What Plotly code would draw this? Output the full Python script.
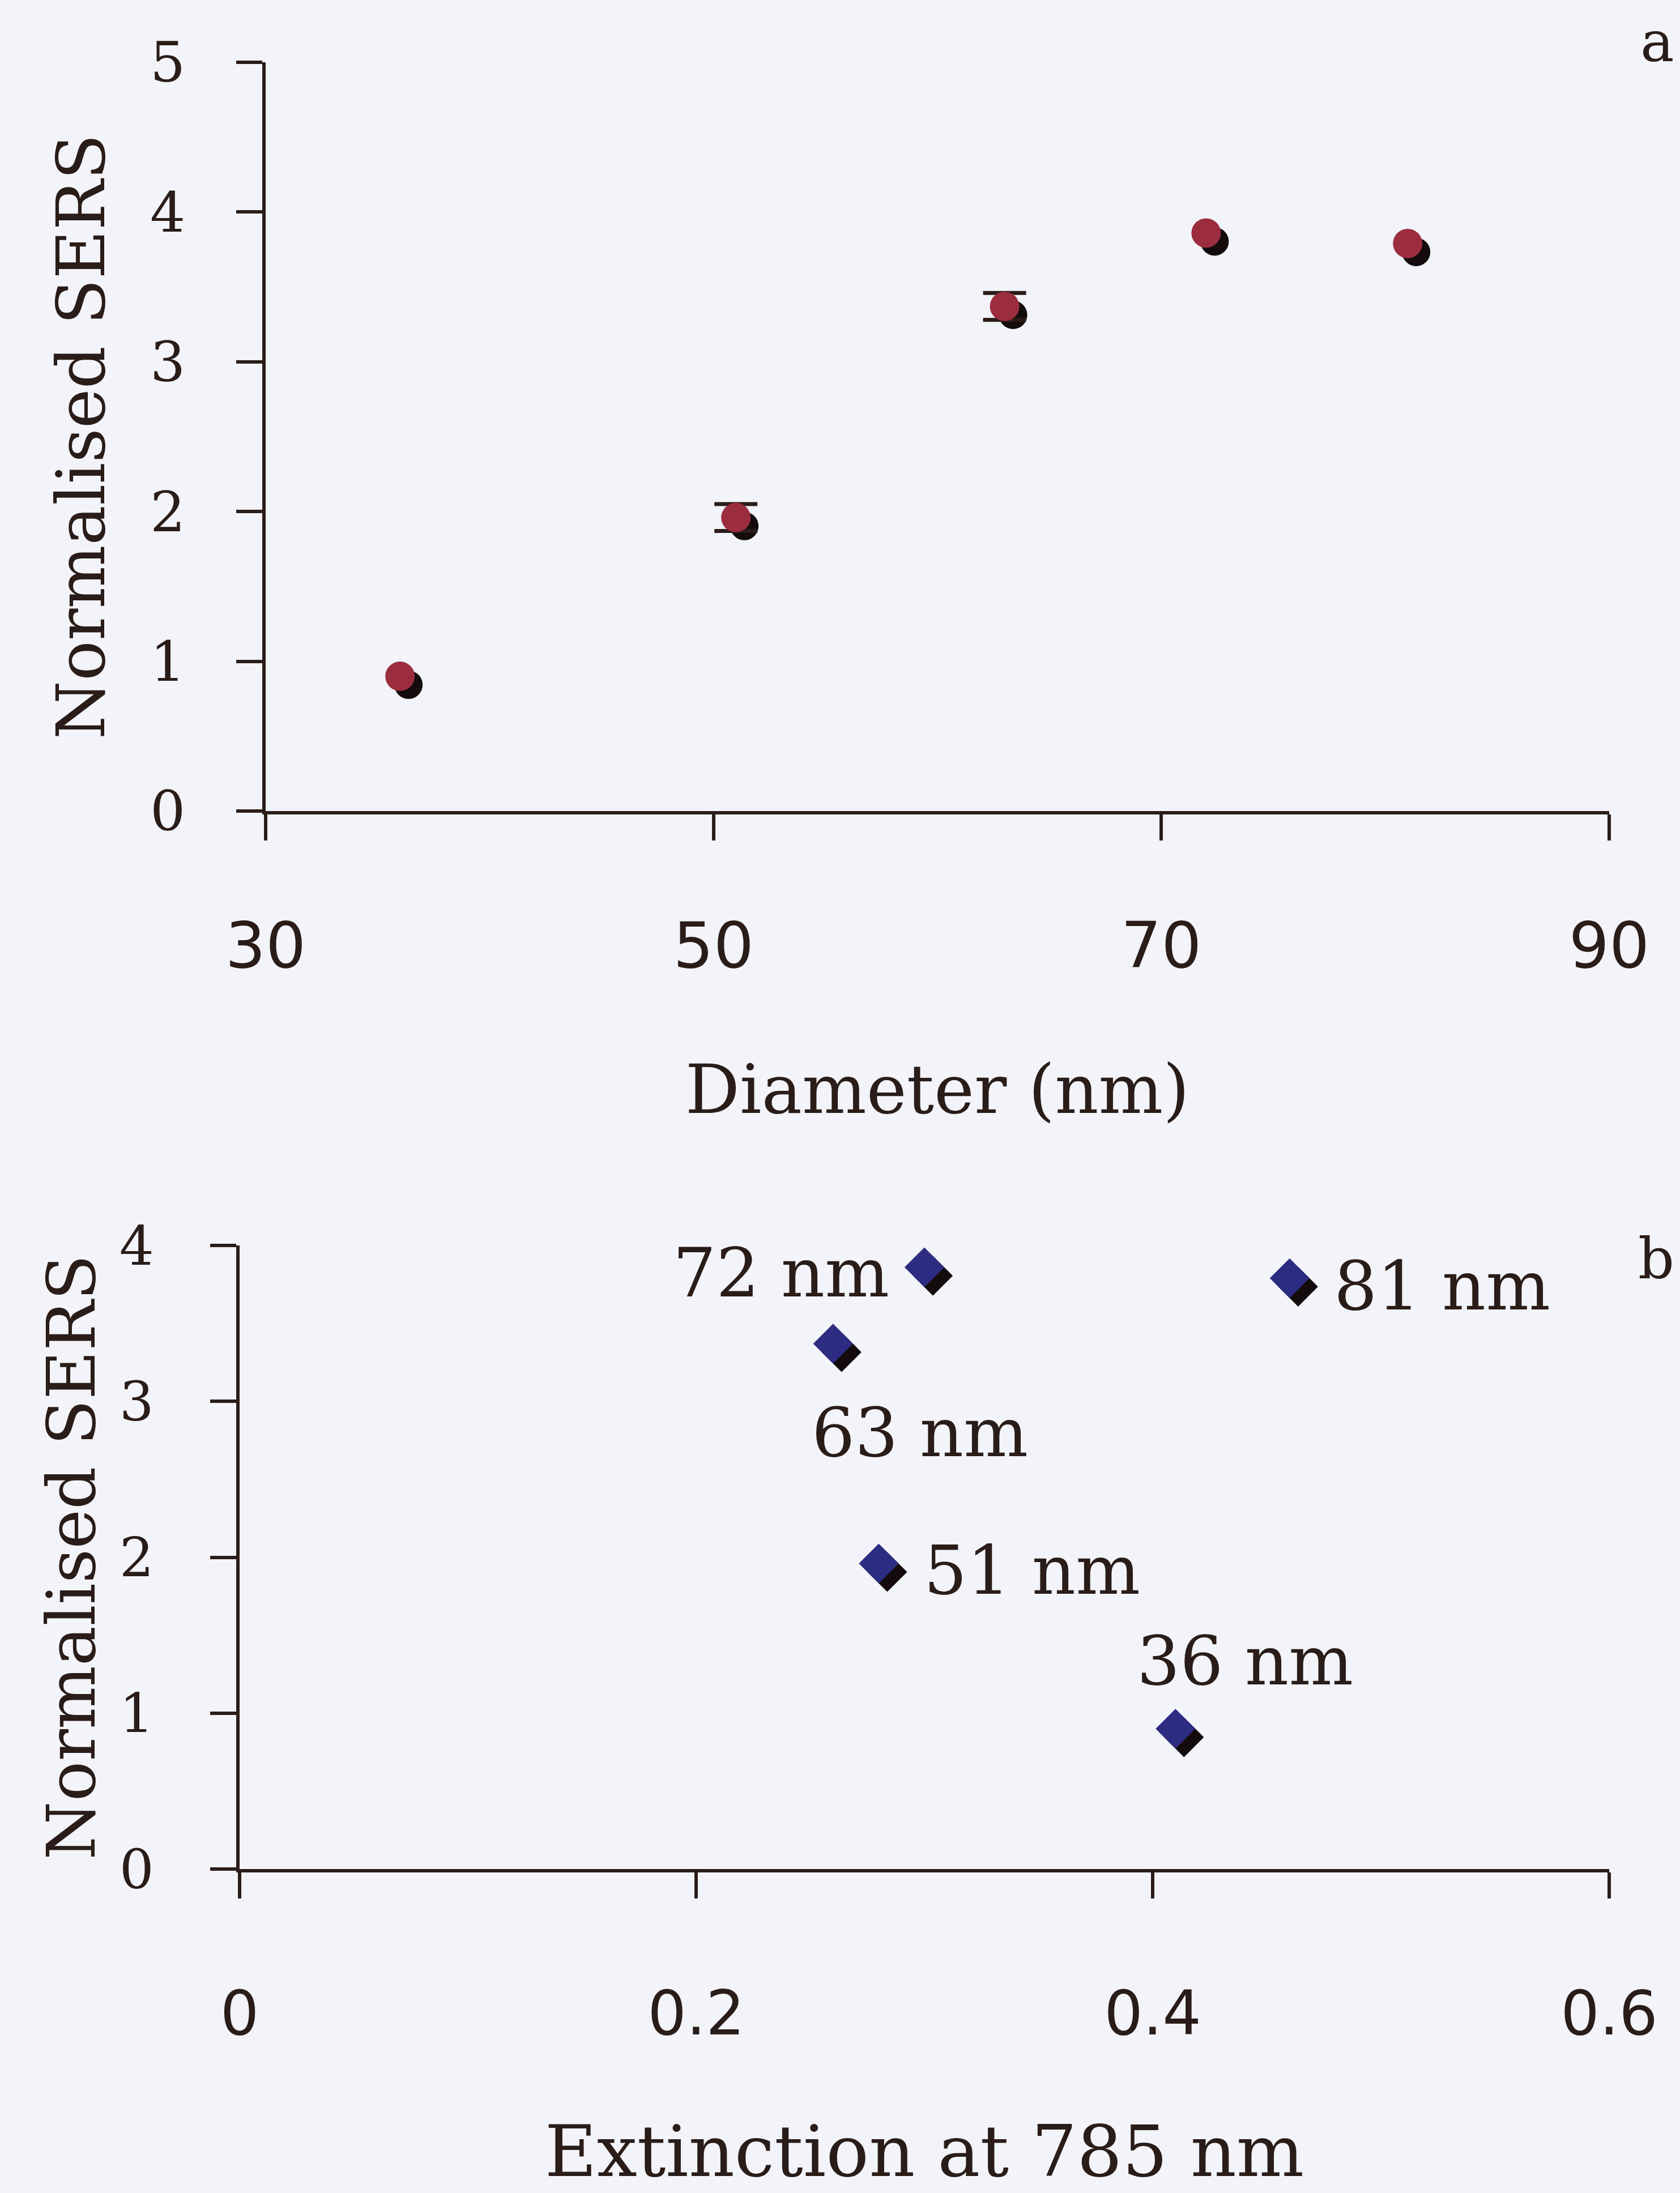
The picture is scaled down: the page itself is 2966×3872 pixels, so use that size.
import plotly.graph_objects as go

# Nanoparticle batches: mean diameter, normalised SERS response, extinction at 785 nm
diameter_nm = [36, 51, 63, 72, 81]
sers_norm = [0.90, 1.96, 3.37, 3.86, 3.79]
sers_err = [None, 0.09, 0.09, None, None]  # only resolved where larger than marker
extinction_785 = [0.41, 0.28, 0.26, 0.30, 0.46]
point_labels = ["36 nm", "51 nm", "63 nm", "72 nm", "81 nm"]

diam_ticks = [30, 50, 70, 90]
ext_ticks = [0, 0.2, 0.4, 0.6]
ext_ticktext = ["0", "0.2", "0.4", "0.6"]

W, H = 2966, 3872
INK = "#2a1c18"
BG = "#f2f4f9"
MAROON = "#9b2d3e"
NAVY = "#2c2c82"
SERIF = "DejaVu Serif"
SANS = "DejaVu Sans"

# panel geometry (paper fractions)
top_x = [469 / W, 2841 / W]
top_y = [(H - 1432) / H, (H - 110) / H]
bot_x = [423 / W, 2841 / W]
bot_y = [(H - 3300) / H, (H - 2199) / H]

# drop shadow offset, in pixels
sdx, sdy = 15 / W, 15 / H


def shift(dom, d):
    return [dom[0] + d, dom[1] + d]


fig = go.Figure()

# shadows (drawn first, on hidden axes offset down-right)
fig.add_trace(go.Scatter(
    x=diameter_nm, y=sers_norm, mode="markers", xaxis="x", yaxis="y",
    marker=dict(symbol="circle", size=50, color="#140c0c", line=dict(width=0)),
    hoverinfo="skip", showlegend=False))
fig.add_trace(go.Scatter(
    x=extinction_785, y=sers_norm, mode="markers", xaxis="x2", yaxis="y2",
    marker=dict(symbol="diamond", size=54, color="#140c0c", line=dict(width=0)),
    hoverinfo="skip", showlegend=False))

# panel a: error bars where they exist
err_idx = [i for i, e in enumerate(sers_err) if e is not None]
fig.add_trace(go.Scatter(
    x=[diameter_nm[i] for i in err_idx], y=[sers_norm[i] for i in err_idx],
    mode="markers", xaxis="x3", yaxis="y3",
    marker=dict(size=1, color="rgba(0,0,0,0)"),
    error_y=dict(type="data", array=[sers_err[i] for i in err_idx],
                 color=INK, thickness=7, width=38),
    hoverinfo="skip", showlegend=False))

# panel a: SERS vs diameter
fig.add_trace(go.Scatter(
    x=diameter_nm, y=sers_norm, mode="markers", xaxis="x3", yaxis="y3",
    marker=dict(symbol="circle", size=52, color=MAROON, line=dict(width=0)),
    showlegend=False))

# panel b: SERS vs extinction
fig.add_trace(go.Scatter(
    x=extinction_785, y=sers_norm, mode="markers", xaxis="x4", yaxis="y4",
    marker=dict(symbol="diamond", size=54, color=NAVY, line=dict(width=0)),
    showlegend=False))

hidden = dict(visible=False, showgrid=False, zeroline=False, automargin=False)
common = dict(showgrid=False, zeroline=False, showline=True, linecolor=INK,
              linewidth=6, ticks="outside", ticklen=46, tickwidth=6,
              tickcolor=INK, automargin=False)

fig.update_layout(
    width=W, height=H,
    margin=dict(l=0, r=0, t=0, b=0),
    paper_bgcolor=BG, plot_bgcolor="rgba(0,0,0,0)",
    xaxis=dict(domain=shift(top_x, sdx), range=[30, 90], anchor="y", **hidden),
    yaxis=dict(domain=shift(top_y, -sdy), range=[0, 5], anchor="x", **hidden),
    xaxis2=dict(domain=shift(bot_x, sdx), range=[0, 0.6], anchor="y2", **hidden),
    yaxis2=dict(domain=shift(bot_y, -sdy), range=[0, 4], anchor="x2", **hidden),
    xaxis3=dict(domain=top_x, range=[30, 90], anchor="y3", tickvals=diam_ticks,
                tickfont=dict(family=SANS, size=112, color=INK),
                ticklabelstandoff=90,
                title=dict(text="Diameter (nm)", standoff=150,
                           font=dict(family=SERIF, size=120, color=INK)),
                **common),
    yaxis3=dict(domain=top_y, range=[0, 5], anchor="x3", dtick=1,
                tickfont=dict(family=SERIF, size=98, color=INK),
                ticklabelstandoff=70,
                title=dict(text="Normalised SERS", standoff=43,
                           font=dict(family=SERIF, size=118, color=INK)),
                **common),
    xaxis4=dict(domain=bot_x, range=[0, 0.6], anchor="y4", tickvals=ext_ticks,
                ticktext=ext_ticktext,
                tickfont=dict(family=SANS, size=108, color=INK),
                ticklabelstandoff=110,
                title=dict(text="Extinction at 785 nm", standoff=210,
                           font=dict(family=SERIF, size=126, color=INK)),
                **common),
    yaxis4=dict(domain=bot_y, range=[0, 4], anchor="x4", dtick=1,
                tickfont=dict(family=SERIF, size=96, color=INK),
                ticklabelstandoff=80,
                title=dict(text="Normalised SERS", standoff=5,
                           font=dict(family=SERIF, size=118, color=INK)),
                **common),
)

# point labels for panel b: (xanchor, yanchor, xshift, yshift)
label_pos = {
    "36 nm": ("left", "middle", -70, 120),
    "51 nm": ("left", "middle", 78, -12),
    "63 nm": ("left", "middle", -40, -157),
    "72 nm": ("right", "middle", -60, -10),
    "81 nm": ("left", "middle", 76, -14),
}
for xv, yv, lab in zip(extinction_785, sers_norm, point_labels):
    xa, ya, xs, ys = label_pos[lab]
    fig.add_annotation(x=xv, y=yv, xref="x4", yref="y4", text=lab,
                       showarrow=False, xanchor=xa, yanchor=ya,
                       xshift=xs, yshift=ys,
                       font=dict(family=SERIF, size=120, color=INK))

# panel letters
fig.add_annotation(x=2926 / W, y=1 - 74 / H, xref="paper", yref="paper",
                   text="a", showarrow=False, xanchor="center", yanchor="middle",
                   font=dict(family=SERIF, size=100, color=INK))
fig.add_annotation(x=2958 / W, y=1 - 2222 / H, xref="paper", yref="paper",
                   text="b", showarrow=False, xanchor="right", yanchor="middle",
                   font=dict(family=SERIF, size=100, color=INK))

fig.write_html("out.html")
